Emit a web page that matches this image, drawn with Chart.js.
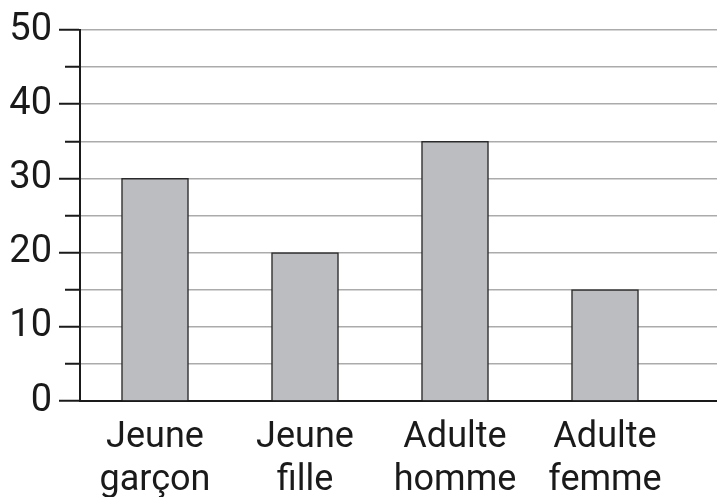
<!DOCTYPE html>
<html>
<head>
<meta charset="utf-8">
<script src="https://cdn.jsdelivr.net/npm/chart.js@4"></script>
<style>
  html, body { margin: 0; padding: 0; background: #fff; }
</style>
</head>
<body>
<canvas id="chart" width="717" height="497"></canvas>
<script>
const categories = [['Jeune', 'garçon'], ['Jeune', 'fille'], ['Adulte', 'homme'], ['Adulte', 'femme']]
const counts = [30, 20, 35, 15]
const yMax = 50

////////// bar chart //////////
const ctx = document.getElementById('chart').getContext('2d')

var chart = new Chart(ctx, {
  type: 'bar',
  data: {
    datasets: [{
      data: counts.map((v, i) => ({ x: i, y: v })),
      backgroundColor: '#bcbdc0',
      borderColor: '#2a2a2a',
      borderWidth: 1.5,
      barThickness: 67
    }]
  },
  options: {
    responsive: false,
    animation: false,
    layout: { padding: { top: 30, right: 0, left: 0, bottom: 0 } },
    plugins: {
      legend: { display: false },
      tooltip: { enabled: false }
    },
    scales: {
      x: {
        type: 'linear',
        offset: false,
        min: -0.5,
        // 150px per category, plot runs on to the right edge
        max: 637 / 150 - 0.5,
        grid: { display: false, drawTicks: false, tickLength: 0, offset: false },
        border: { display: true, color: '#1a1a1a', width: 2 },
        afterBuildTicks: scale => {
          scale.ticks = categories.map((_, i) => ({ value: i }))
        },
        afterFit: scale => { scale.height = 96 },
        ticks: {
          autoSkip: false,
          maxRotation: 0,
          padding: 15,
          color: '#1a1a1a',
          font: { family: 'Roboto', size: 36, lineHeight: 1.2 },
          callback: v => categories[v] || ''
        }
      },
      y: {
        min: 0,
        max: yMax,
        afterFit: scale => { scale.width = 80 },
        grid: {
          color: '#ababab',
          lineWidth: 1.5,
          tickColor: '#1a1a1a',
          tickWidth: 2,
          tickLength: 21,
          // short minor ticks: skip the outer 6px, keep the 15px next to the axis
          tickBorderDash: c => (c.tick && c.tick.value % 10) ? [0, 6, 15, 100] : []
        },
        border: { display: true, color: '#1a1a1a', width: 2 },
        ticks: {
          stepSize: 5,
          autoSkip: false,
          padding: 7,
          color: '#1a1a1a',
          font: { family: 'Roboto', size: 38 },
          callback: v => v % 10 === 0 ? v : ''
        }
      }
    }
  }
})
</script>
</body>
</html>
